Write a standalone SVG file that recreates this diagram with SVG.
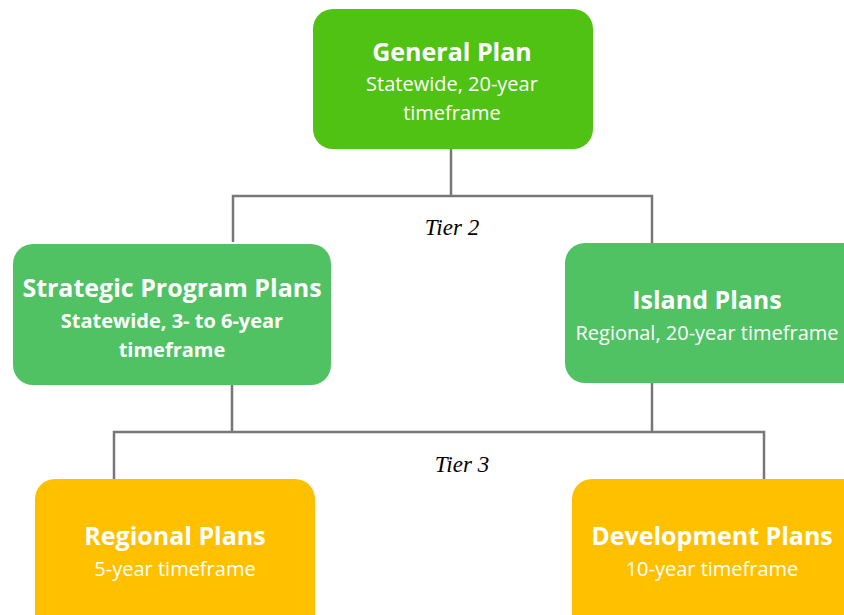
<svg xmlns="http://www.w3.org/2000/svg" width="844" height="615" viewBox="0 0 844 615">
<style>
.t{font-family:"Open Sans","Noto Sans",sans-serif;font-weight:700;font-size:25px;fill:#fff;text-anchor:middle}
.s{font-family:"Open Sans","Noto Sans",sans-serif;font-size:20px;fill:#fff;text-anchor:middle}
.sb{font-family:"Open Sans","Noto Sans",sans-serif;font-weight:700;font-size:20px;fill:#fff;text-anchor:middle}
.tier{font-family:"Liberation Serif",serif;font-style:italic;font-size:23px;fill:#000;text-anchor:middle}
.c{stroke:#777;stroke-width:2.5;fill:none}
</style>
<rect width="844" height="615" fill="#fff"/>
<g id="connectors">
<path class="c" d="M451 149V196M233 242V196H652V243"/>
<path class="c" d="M232 385V432M652 383V432M114 479V432H764V479"/>
<text class="tier" x="452" y="235">Tier 2</text>
<text class="tier" x="462" y="472">Tier 3</text>
</g>
<g id="general">
<rect x="313" y="9" width="280" height="140" rx="20" fill="#4FC214"/>
<text class="t" x="452" y="61">General Plan</text>
<text class="s" x="452" y="91">Statewide, 20-year</text>
<text class="s" x="452" y="120">timeframe</text>
</g>
<g id="strategic">
<rect x="13" y="244" width="318" height="141" rx="20" fill="#50C264"/>
<text class="t" x="172" y="297">Strategic Program Plans</text>
<text class="sb" x="172" y="328">Statewide, 3- to 6-year</text>
<text class="sb" x="172" y="357">timeframe</text>
</g>
<g id="island">
<rect x="565" y="243" width="300" height="140" rx="20" fill="#50C264"/>
<text class="t" x="707" y="309">Island Plans</text>
<text class="s" x="707" y="340">Regional, 20-year timeframe</text>
</g>
<g id="regional">
<rect x="35" y="479" width="280" height="160" rx="20" fill="#FFC000"/>
<text class="t" x="175" y="545">Regional Plans</text>
<text class="s" x="175" y="576">5-year timeframe</text>
</g>
<g id="development">
<rect x="572" y="479" width="300" height="160" rx="20" fill="#FFC000"/>
<text class="t" x="712" y="545">Development Plans</text>
<text class="s" x="712" y="576">10-year timeframe</text>
</g>
</svg>
